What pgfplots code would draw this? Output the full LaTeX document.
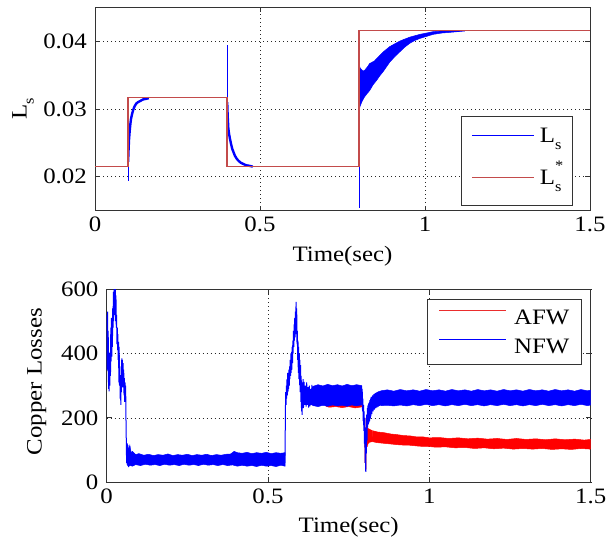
\documentclass[border=0pt]{standalone}
\usepackage{pgfplots}
\pgfplotsset{compat=1.18}
\usepackage{fontspec}
\setmainfont{Liberation Serif}[FakeStretch=1.13]
\newcommand\F{\fontsize{22bp}{25bp}\selectfont}
\newcommand\sm{\fontsize{14.5bp}{14.5bp}\selectfont}
\newcommand\Ls{L\raisebox{-0.32em}{\sm s}}
\newcommand\Lss{L\rlap{\raisebox{0.62em}{\sm *}}\raisebox{-0.32em}{\sm s}}
\definecolor{refred}{RGB}{195,75,75}
\definecolor{afwred}{RGB}{235,45,45}
\pgfplotsset{
 mystyle/.style={
   scale only axis, anchor=south west, xmin=0, xmax=1.5,
   xtick={0,0.5,1,1.5}, xticklabels={0,0.5,1,1.5},
   tick align=inside, major tick length=5bp,
   grid=major, grid style={black!85, line width=0.7bp, dash pattern=on 0.7bp off 3.3bp},
   axis line style={black!80, line width=0.9bp},
   every tick/.style={black!80, line width=0.8bp},
   tick label style={font=\F, inner sep=0pt},
   x tick label style={yshift=-6bp},
   y tick label style={xshift=-8bp},
   /pgf/number format/assume math mode=true,
   legend cell align=left,
   scaled ticks=false,
 }
}
\begin{document}
\begin{tikzpicture}
\path[use as bounding box] (0,0) rectangle (611bp,541bp);
% ---------------- top axis ----------------
\begin{axis}[mystyle,
  at={(95bp,330.3bp)}, width=495bp, height=203.4bp,
  ymin=0.015, ymax=0.045,
  ytick={0.02,0.03,0.04}, yticklabels={0.02,0.03,0.04},
  xlabel={Time(sec)}, ylabel={\Ls},
  every axis x label/.style={at={(axis description cs:0.5,-0.226)}, anchor=center, font=\F},
  every axis y label/.style={at={(axis description cs:-0.1455,0.5)}, rotate=90, anchor=center, font=\F},
  legend style={at={(axis description cs:0.965,0.028)}, anchor=south east, draw=black!80, fill=white, font=\F, inner xsep=11bp, inner ysep=12bp, row sep=19.8bp, column sep=5bp, nodes={inner sep=0pt, text height=14bp, text depth=8.5bp}},
  legend image code/.code={\draw[#1] (0bp,4bp) -- (62bp,4bp);},
]
\addlegendimage{blue, line width=1.2bp, no markers}
\addlegendentry{\Ls}
\addlegendimage{refred, line width=1.1bp, no markers}
\addlegendentry{\Lss}
\addplot[blue, line width=1bp, forget plot] coordinates {(0,0.02153) (0.1,0.02153) (0.1,0.0194) (0.1006,0.0194) (0.1006,0.0225)};
\addplot[blue, line width=2.4bp, forget plot] coordinates {(0.1006,0.0222) (0.101,0.0232) (0.102,0.0243) (0.103,0.0254) (0.105,0.0267) (0.107,0.0277) (0.109,0.0285) (0.112,0.0292) (0.116,0.0299) (0.120,0.0304) (0.125,0.0308) (0.130,0.0310) (0.138,0.0312) (0.145,0.0314) (0.155,0.0315) (0.163,0.0316)};
\addplot[blue, line width=1bp, forget plot] coordinates {(0.163,0.03165) (0.4,0.03165) (0.4,0.0394) (0.4006,0.0394) (0.4006,0.0305)};
\addplot[blue, line width=2.4bp, forget plot] coordinates {(0.4006,0.0310) (0.402,0.0290) (0.404,0.0272) (0.406,0.0264) (0.409,0.0256) (0.412,0.0249) (0.416,0.0241) (0.420,0.0236) (0.424,0.0231) (0.429,0.0227) (0.434,0.0224) (0.441,0.0221) (0.449,0.0219) (0.458,0.0217) (0.470,0.0216) (0.478,0.0215)};
\addplot[blue, line width=1bp, forget plot] coordinates {(0.478,0.02153) (0.8,0.02153) (0.8,0.0154) (0.8006,0.0154) (0.8006,0.0364)};
\addplot[blue!70!black, line width=2.2bp, forget plot] coordinates {(0.8003,0.0241) (0.8003,0.0305)};
\addplot[draw=blue, fill=blue, line width=0.5bp, forget plot] coordinates {(0.801,0.0364) (0.804,0.0360) (0.808,0.0358) (0.812,0.0356) (0.817,0.0357) (0.822,0.0360) (0.827,0.0363) (0.832,0.0367) (0.840,0.0369) (0.847,0.0371) (0.853,0.0374) (0.863,0.0379) (0.873,0.0384) (0.883,0.0388) (0.893,0.0392) (0.908,0.0396) (0.923,0.0400) (0.938,0.0403) (0.954,0.0406) (0.969,0.0408) (0.984,0.0410) (1.004,0.0412) (1.024,0.0414) (1.05,0.0415) (1.075,0.0415) (1.12,0.04155) (1.12,0.0415) (1.075,0.0413) (1.05,0.0412) (1.024,0.0410) (1.004,0.0407) (0.984,0.0404) (0.969,0.0401) (0.954,0.0397) (0.938,0.0391) (0.923,0.0384) (0.908,0.0377) (0.893,0.0369) (0.883,0.0362) (0.873,0.0355) (0.863,0.0349) (0.853,0.0342) (0.843,0.0336) (0.832,0.0327) (0.825,0.0323) (0.817,0.0318) (0.810,0.0312) (0.804,0.0305) (0.801,0.0300)} -- cycle;
\addplot[blue, line width=1bp, forget plot] coordinates {(1.12,0.04153) (1.5,0.04153)};
\addplot[refred, line width=1.3bp, forget plot] coordinates {(0,0.02153) (0.1,0.02153) (0.1,0.03165) (0.4,0.03165) (0.4,0.02153) (0.8,0.02153) (0.8,0.04153) (1.5,0.04153)};
\end{axis}
% ---------------- bottom axis ----------------
\begin{axis}[mystyle,
  at={(106.6bp,58.7bp)}, width=484.1bp, height=193.3bp,
  ymin=0, ymax=600,
  ytick={0,200,400,600}, yticklabels={0,200,400,600},
  xlabel={Time(sec)}, ylabel={Copper Losses},
  every axis x label/.style={at={(axis description cs:0.5,-0.233)}, anchor=center, font=\F},
  every axis y label/.style={at={(axis description cs:-0.1444,0.5215)}, rotate=90, anchor=center, font=\F},
  legend style={at={(axis description cs:0.98,0.9467)}, anchor=north east, draw=black!80, fill=white, font=\F, inner xsep=11.5bp, inner ysep=10bp, row sep=14bp, column sep=7.5bp, nodes={inner sep=0pt, text height=15bp, text depth=0bp}},
  legend image code/.code={\draw[#1] (0bp,7bp) -- (66.6bp,7bp);},
]
\addlegendimage{afwred, line width=1.1bp, no markers}
\addlegendentry{AFW}
\addlegendimage{blue, line width=1.3bp, no markers}
\addlegendentry{NFW}
% AFW (red)
\addplot[draw=red, fill=red, line width=0.5bp, forget plot] coordinates {(0.68,280) (0.79,280) (0.79,234) (0.77,231) (0.75,235) (0.73,232) (0.71,235) (0.69,233) (0.68,236)} -- cycle;
\addplot[red, line width=1bp, forget plot] coordinates {(0.800,200) (0.801,60) (0.802,170) (0.803,40) (0.804,150) (0.805,100) (0.806,172) (0.807,110) (0.808,170) (0.809,115) (0.810,168) (0.812,120) (0.814,166) (0.816,123) (0.818,164) (0.820,125) (0.822,162) (0.824,126)};
\addplot[draw=red, fill=red, line width=0.5bp, forget plot] coordinates {(0.824,160) (0.84,156) (0.86,154) (0.88,150) (0.90,148) (0.92,145) (0.94,144) (0.96,141) (0.98,141) (1.00,138) (1.03,139) (1.06,136) (1.09,138) (1.12,135) (1.15,137) (1.18,134) (1.21,136) (1.24,133) (1.27,136) (1.30,133) (1.33,135) (1.36,132) (1.39,135) (1.42,132) (1.45,134) (1.48,131) (1.5,133) (1.5,103) (1.47,105) (1.44,102) (1.41,104) (1.38,102) (1.35,105) (1.32,103) (1.29,105) (1.26,103) (1.23,106) (1.20,104) (1.17,107) (1.14,105) (1.11,108) (1.08,107) (1.05,110) (1.02,109) (1.00,111) (0.97,112) (0.94,115) (0.91,116) (0.88,119) (0.86,121) (0.84,123) (0.824,126)} -- cycle;
% NFW (blue)
\addplot[blue, line width=1bp, forget plot] coordinates {(0,380) (0.001,520) (0.002,350) (0.003,530) (0.004,345) (0.005,470) (0.006,290) (0.007,400) (0.008,282) (0.009,380) (0.010,300) (0.011,405) (0.012,330) (0.013,480) (0.014,375) (0.015,510) (0.016,390) (0.017,500) (0.018,420) (0.019,540) (0.020,480) (0.021,590) (0.022,500) (0.023,600) (0.024,520) (0.025,610) (0.026,540) (0.027,600) (0.028,500) (0.029,580) (0.030,480) (0.031,520) (0.032,430) (0.033,480) (0.034,410) (0.035,460) (0.036,380) (0.037,436) (0.038,310) (0.039,420) (0.040,300) (0.041,360) (0.042,260) (0.043,333) (0.044,240) (0.045,320) (0.046,280) (0.047,385) (0.048,300) (0.049,380) (0.050,295) (0.051,370) (0.052,300) (0.053,350) (0.054,270) (0.055,323) (0.056,250) (0.057,310) (0.058,260) (0.059,300) (0.060,200) (0.061,130) (0.062,60) (0.063,120) (0.064,55) (0.066,115) (0.068,50) (0.070,100) (0.072,52)};
\addplot[draw=blue, fill=blue, line width=0.5bp, forget plot] coordinates {(0.064,121) (0.068,100) (0.072,115) (0.076,92) (0.080,96) (0.090,86) (0.100,89) (0.115,84) (0.13,87) (0.145,83) (0.16,86) (0.175,84) (0.19,88) (0.205,83) (0.22,86) (0.235,84) (0.25,87) (0.265,83) (0.28,86) (0.295,84) (0.31,87) (0.325,83) (0.34,86) (0.355,84) (0.37,87) (0.385,88) (0.395,96) (0.405,92) (0.42,90) (0.435,93) (0.45,89) (0.465,92) (0.48,90) (0.495,93) (0.51,89) (0.525,92) (0.54,90) (0.553,92) (0.553,50) (0.54,53) (0.525,49) (0.51,52) (0.495,50) (0.48,53) (0.465,49) (0.45,52) (0.435,50) (0.42,53) (0.405,50) (0.39,54) (0.375,52) (0.36,55) (0.345,52) (0.33,55) (0.315,53) (0.3,56) (0.285,52) (0.27,55) (0.255,53) (0.24,56) (0.225,52) (0.21,55) (0.195,53) (0.18,56) (0.165,52) (0.15,55) (0.135,53) (0.12,56) (0.105,52) (0.09,55) (0.08,50) (0.072,53) (0.068,48) (0.064,55)} -- cycle;
\addplot[blue, line width=1bp, forget plot] coordinates {(0.552,60) (0.553,90) (0.554,220) (0.555,280) (0.556,240) (0.557,300) (0.558,260) (0.559,320) (0.560,270) (0.561,340) (0.562,280) (0.563,330) (0.564,290) (0.565,350) (0.566,300) (0.567,360) (0.568,320) (0.569,380) (0.570,330) (0.571,400) (0.572,340) (0.573,405) (0.574,350) (0.575,420) (0.576,370) (0.577,440) (0.578,400) (0.579,470) (0.580,420) (0.581,490) (0.582,440) (0.583,510) (0.584,450) (0.585,530) (0.586,460) (0.587,560) (0.588,480) (0.589,540) (0.590,430) (0.591,470) (0.592,380) (0.593,440) (0.594,340) (0.595,420) (0.596,320) (0.597,400) (0.598,302) (0.599,380) (0.600,280) (0.601,364) (0.602,250) (0.603,330) (0.604,220) (0.605,300) (0.606,209) (0.607,310) (0.608,240) (0.609,320) (0.610,230) (0.612,312) (0.614,240) (0.616,300) (0.618,235) (0.620,310) (0.622,240) (0.624,295) (0.626,232) (0.628,300) (0.630,236) (0.632,290) (0.634,240) (0.636,302) (0.638,238) (0.640,298)};
\addplot[draw=blue, fill=blue, line width=0.5bp, forget plot] coordinates {(0.64,298) (0.655,303) (0.67,299) (0.685,304) (0.70,300) (0.715,303) (0.73,299) (0.745,304) (0.76,300) (0.775,303) (0.79,300) (0.79,240) (0.775,237) (0.76,240) (0.745,236) (0.73,239) (0.715,237) (0.70,240) (0.685,236) (0.67,239) (0.655,235) (0.64,238)} -- cycle;
\addplot[blue, line width=1bp, forget plot] coordinates {(0.790,300) (0.791,240) (0.792,290) (0.793,220) (0.794,260) (0.795,190) (0.796,240) (0.797,160) (0.798,220) (0.799,120) (0.800,200) (0.801,60) (0.802,170) (0.803,32) (0.804,150) (0.805,90) (0.806,210) (0.807,130) (0.808,230) (0.809,170) (0.810,240) (0.811,180) (0.812,245) (0.813,185) (0.814,250) (0.815,190) (0.816,255) (0.817,198) (0.818,260) (0.819,205) (0.820,265) (0.822,212) (0.824,270) (0.826,220) (0.828,274) (0.830,226) (0.832,277) (0.834,230) (0.836,279) (0.838,233) (0.840,281) (0.842,235) (0.844,283) (0.846,237) (0.848,284) (0.850,239)};
\addplot[draw=blue, fill=blue, line width=0.5bp, forget plot] coordinates {(0.85,284) (0.87,287) (0.89,283) (0.91,288) (0.93,284) (0.95,287) (0.97,283) (0.99,288) (1.01,284) (1.03,287) (1.05,283) (1.07,288) (1.09,284) (1.11,287) (1.13,283) (1.15,288) (1.17,284) (1.19,287) (1.21,283) (1.23,288) (1.25,284) (1.27,287) (1.29,283) (1.31,288) (1.33,284) (1.35,287) (1.37,283) (1.39,288) (1.41,284) (1.43,287) (1.45,283) (1.47,288) (1.49,284) (1.5,286) (1.5,240) (1.49,238) (1.47,242) (1.45,238) (1.43,241) (1.41,237) (1.39,241) (1.37,238) (1.35,242) (1.33,238) (1.31,241) (1.29,237) (1.27,241) (1.25,238) (1.23,242) (1.21,238) (1.19,241) (1.17,237) (1.15,241) (1.13,238) (1.11,242) (1.09,238) (1.07,241) (1.05,237) (1.03,241) (1.01,238) (0.99,242) (0.97,238) (0.95,241) (0.93,237) (0.91,240) (0.89,237) (0.87,239) (0.85,238)} -- cycle;
\end{axis}
\end{tikzpicture}
\end{document}
